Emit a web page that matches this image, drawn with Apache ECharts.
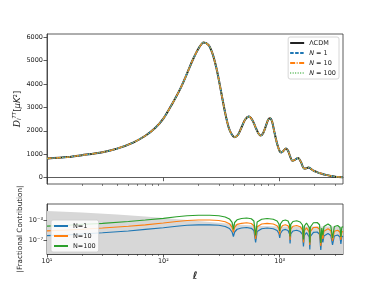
<!DOCTYPE html>
<html><head><meta charset="utf-8">
<script src="https://cdn.jsdelivr.net/npm/echarts@6/dist/echarts.min.js"></script>
<style>html,body{margin:0;padding:0;background:#fff}#c{width:381px;height:286px}</style>
</head><body><div id="c"></div>
<script>
// ---- top panel: D_l^TT (all four models overlap) ----
const ellTop = [10,15,20,30,40,55,70,85,100,120,140,160,180,200,222,245,265,285,300,320,340,365,390,412,440,470,505,543,580,620,655,686,720,760,795,826,860,900,950,1000,1032,1080,1132,1180,1230,1285,1350,1438,1520,1622,1700,1767,1850,1950,2113,2300,2500,2750,3000,3200,3500];
const dlTT = [820,880,960,1090,1240,1500,1790,2120,2520,3180,3800,4450,5050,5500,5770,5650,5280,4700,4170,3430,2760,2130,1820,1730,1840,2150,2480,2610,2470,2150,1900,1800,1900,2200,2470,2540,2400,1950,1450,1130,1080,1150,1250,1150,900,720,760,840,680,390,400,440,380,300,230,170,120,75,45,32,25];

// ---- bottom panel: |fractional contribution| ----
const ellBot = [10,15,20,30,50,70,100,130,160,200,250,300,340,370,390,400,410,430,470,520,570,600,621,640,700,780,880,950,985,1000,1015,1060,1120,1180,1215,1228,1245,1300,1400,1500,1570,1600,1630,1700,1760,1795,1815,1835,1950,2100,2200,2255,2300,2350,2400,2600,2750,2845,2950,3150,3300,3356,3420,3500];
const fracN1 = [7.2e-7,1.1e-6,1.6e-6,2.8e-6,6.3e-6,1.3e-5,2.8e-5,5.6e-5,8.9e-5,1.1e-4,
 1.1e-4,8.9e-5,5.0e-5,2.0e-5,4.0e-6,5.0e-7,4.0e-6,1.4e-5,2.5e-5,3.2e-5,
 2.2e-5,7.9e-6,3.2e-8,5.0e-6,1.8e-5,2.5e-5,1.8e-5,7.9e-6,2.0e-6,2.5e-7,
 2.0e-6,8.9e-6,1.3e-5,7.9e-6,1.6e-6,2.0e-8,1.6e-6,6.3e-6,8.9e-6,5.0e-6,
 1.3e-6,5.0e-9,7.9e-7,3.2e-6,2.0e-6,4.0e-7,1.3e-9,5.0e-7,3.5e-6,4.0e-6,
 1.4e-6,1.0e-9,3.2e-7,3.2e-8,6.3e-7,2.0e-6,7.9e-7,1.0e-8,6.3e-7,1.0e-6,
 4.0e-7,1.6e-8,4.0e-7,6.3e-7];
const fracN10 = [6.5e-6,1.0e-5,1.4e-5,2.5e-5,5.6e-5,1.1e-4,2.5e-4,5.0e-4,7.9e-4,1.0e-3,
 1.0e-3,7.9e-4,4.5e-4,1.8e-4,3.5e-5,3.2e-6,3.5e-5,1.3e-4,2.2e-4,2.8e-4,
 2.0e-4,7.1e-5,1.6e-7,4.5e-5,1.6e-4,2.2e-4,1.6e-4,7.1e-5,1.8e-5,1.3e-6,
 1.8e-5,7.9e-5,1.1e-4,7.1e-5,1.4e-5,1.0e-7,1.4e-5,5.6e-5,7.9e-5,4.5e-5,
 1.1e-5,3.2e-8,7.1e-6,2.8e-5,1.8e-5,3.5e-6,1.0e-8,4.5e-6,3.2e-5,3.5e-5,
 1.3e-5,6.3e-9,2.8e-6,1.6e-7,5.6e-6,1.8e-5,7.1e-6,6.3e-8,5.6e-6,8.9e-6,
 3.5e-6,1.0e-7,3.5e-6,5.6e-6];
const fracN100 = [5.8e-5,8.9e-5,1.3e-4,2.2e-4,5.0e-4,1.0e-3,2.2e-3,4.5e-3,7.1e-3,8.9e-3,
 8.9e-3,7.1e-3,4.0e-3,1.6e-3,3.2e-4,1.3e-5,3.2e-4,1.1e-3,2.0e-3,2.5e-3,
 1.8e-3,6.3e-4,7.9e-7,4.0e-4,1.4e-3,2.0e-3,1.4e-3,6.3e-4,1.6e-4,6.3e-6,
 1.6e-4,7.1e-4,1.0e-3,6.3e-4,1.3e-4,5.0e-7,1.3e-4,5.0e-4,7.1e-4,4.0e-4,
 1.0e-4,1.3e-7,6.3e-5,2.5e-4,1.6e-4,3.2e-5,3.2e-8,4.0e-5,2.8e-4,3.2e-4,
 1.1e-4,2.5e-8,2.5e-5,7.9e-7,5.0e-5,1.6e-4,6.3e-5,2.5e-7,5.0e-5,7.9e-5,
 3.2e-5,4.0e-7,3.2e-5,5.0e-5];
// grey band (upper edge)
const bandEll = [10,20,40,70,100,160,250,350,500,700,1000,3500];
const bandLevel = [6.3e-2,3.2e-2,1.3e-2,5.0e-3,2.5e-3,1.0e-3,4.0e-4,2.0e-4,1.0e-4,6.3e-5,5.0e-5,5.0e-5];

// ---- ticks ----
const xMajorTicks = [10,100,1000];
const xMajorLabels = ['10¹','10²','10³'];
const xMinorTicks = [20,30,40,50,60,70,80,90,200,300,400,500,600,700,800,900,2000,3000];
const yTopTicks = [0,1000,2000,3000,4000,5000,6000];
const yBotTicks = [1e-7,1e-3];
const yBotLabels = ['10⁻⁷','10⁻³'];

const zip = (a,b)=>a.map((v,i)=>[v,b[i]]);
const FONT = 'DejaVu Sans';
const AX = '#333';
const nearestLabel = (v, ticks, labels) => {
  let best = 0, bd = Infinity;
  ticks.forEach((t,i)=>{ const d = Math.abs(Math.log10(v)-Math.log10(t)); if(d<bd){bd=d;best=i;} });
  return labels[best];
};

function xPair(gi, showLabels){
  return [{
    type:'log', logBase:10, gridIndex:gi, min:10, max:3500, position:'bottom',
    axisLine:{show:true, lineStyle:{color:AX, width:0.8}},
    axisTick:{show:true, length:3.5, customValues:xMajorTicks, lineStyle:{color:AX, width:0.8}},
    axisLabel:{show:showLabels, customValues:xMajorTicks, fontSize:6.5, fontFamily:FONT, color:'#222', margin:4,
      formatter:v=>nearestLabel(v,xMajorTicks,xMajorLabels)},
    splitLine:{show:false}, minorTick:{show:false},
    name: showLabels ? 'ℓ' : '', nameLocation:'middle', nameGap:17, nameMoveOverlap:false,
    nameTextStyle:{fontSize:10, fontStyle:'italic', fontWeight:'bold', fontFamily:FONT, color:'#222'}
  },{
    type:'log', logBase:10, gridIndex:gi, min:10, max:3500, position:'bottom', offset:0,
    axisLine:{show:false},
    axisTick:{show:true, length:2, customValues:xMinorTicks, lineStyle:{color:AX, width:0.6}},
    axisLabel:{show:false}, splitLine:{show:false}
  }];
}

const chart = echarts.init(document.getElementById('c'), null, {renderer:'canvas'});
const topLegendFmt = n => n.startsWith('N') ? '{i|N}' + n.slice(1) : n;
const hiddenSymbol = {color:'rgba(0,0,0,0)', borderWidth:0, opacity:0};

chart.setOption({
  animation:false,
  textStyle:{fontFamily:FONT},
  grid:[
    {left:47, top:34, width:296, height:150, show:true, borderColor:AX, borderWidth:0.8, containLabel:false},
    {left:47, top:204, width:296, height:50, show:true, borderColor:AX, borderWidth:0.8, containLabel:false}
  ],
  xAxis:[...xPair(0,false), ...xPair(1,true)],
  yAxis:[{
    type:'value', gridIndex:0, min:-268, max:6128,
    axisLine:{show:true, lineStyle:{color:AX, width:0.8}},
    axisTick:{show:true, length:3.5, customValues:yTopTicks, lineStyle:{color:AX, width:0.8}},
    axisLabel:{customValues:yTopTicks, fontSize:6.5, fontFamily:FONT, color:'#222', margin:4, formatter:v=>String(v)},
    splitLine:{show:false},
    name:'{d|D}{s|l}{p|TT}{t|[}{it|μK}{t|²]}', nameLocation:'middle', nameRotate:90, nameGap:24, nameMoveOverlap:false,
    nameTextStyle:{color:'#222', rich:{
      d:{fontSize:9, fontStyle:'italic', fontFamily:'DejaVu Serif', color:'#222'},
      s:{fontSize:5.5, fontStyle:'italic', fontFamily:FONT, color:'#222', padding:[4,0,0,0]},
      p:{fontSize:5.5, fontStyle:'italic', fontFamily:FONT, color:'#222', padding:[0,0,5,0]},
      t:{fontSize:8.5, fontFamily:FONT, color:'#222'},
      it:{fontSize:8.5, fontStyle:'italic', fontFamily:FONT, color:'#222'}
    }}
  },{
    type:'log', logBase:10, gridIndex:1, min:1.585e-10, max:1.585,
    axisLine:{show:true, lineStyle:{color:AX, width:0.8}},
    axisTick:{show:true, length:3.5, customValues:yBotTicks, lineStyle:{color:AX, width:0.8}},
    axisLabel:{customValues:yBotTicks, fontSize:6.5, fontFamily:FONT, color:'#222', margin:4,
      formatter:v=>nearestLabel(v,yBotTicks,yBotLabels)},
    splitLine:{show:false}, minorTick:{show:false},
    name:'|Fractional Contribution|', nameLocation:'middle', nameRotate:90, nameGap:23, nameMoveOverlap:false,
    nameTextStyle:{fontSize:7.2, fontFamily:FONT, color:'#222'}
  }],
  legend:[{
    data:['ΛCDM','N = 1','N = 10','N = 100'],
    right:42, top:37, orient:'vertical', itemWidth:14, itemHeight:7, itemGap:2,
    padding:[2,3,2,1], backgroundColor:'rgba(255,255,255,0.85)', borderColor:'#ccc', borderWidth:0.8, borderRadius:2,
    itemStyle:hiddenSymbol,
    formatter:topLegendFmt,
    textStyle:{fontSize:6.5, fontFamily:FONT, color:'#222', lineHeight:8, rich:{i:{fontStyle:'italic', fontSize:6.5, fontFamily:FONT, color:'#222'}}}
  },{
    data:['N=1','N=10','N=100'],
    left:51, top:220, orient:'vertical', itemWidth:14, itemHeight:7, itemGap:2,
    padding:[2,3,2,2], backgroundColor:'rgba(255,255,255,0.85)', borderColor:'#ccc', borderWidth:0.8, borderRadius:2,
    itemStyle:hiddenSymbol,
    textStyle:{fontSize:6.5, fontFamily:FONT, color:'#222', lineHeight:8}
  }],
  series:[
    {name:'ΛCDM', type:'line', xAxisIndex:0, yAxisIndex:0, data:zip(ellTop,dlTT), symbol:'none', smooth:0.3,
      color:'#222', lineStyle:{color:'#222', width:2}},
    {name:'N = 1', type:'line', xAxisIndex:0, yAxisIndex:0, data:zip(ellTop,dlTT), symbol:'none', smooth:0.3,
      color:'#1f77b4', lineStyle:{color:'#1f77b4', width:1.3, type:[3.5,1.5]}},
    {name:'N = 10', type:'line', xAxisIndex:0, yAxisIndex:0, data:zip(ellTop,dlTT), symbol:'none', smooth:0.3,
      color:'#ff7f0e', lineStyle:{color:'#ff7f0e', width:1.3, type:[5,1.5,1,1.5]}},
    {name:'N = 100', type:'line', xAxisIndex:0, yAxisIndex:0, data:zip(ellTop,dlTT), symbol:'none', smooth:0.3,
      color:'#2ca02c', lineStyle:{color:'#7fc97f', width:1.3, type:[1,1.5]}},
    {name:'band', type:'line', xAxisIndex:2, yAxisIndex:1, data:zip(bandEll,bandLevel), symbol:'none',
      lineStyle:{width:0}, areaStyle:{origin:'start', color:'#d7d7d7', opacity:1}, silent:true},
    {name:'N=1', type:'line', xAxisIndex:2, yAxisIndex:1, data:zip(ellBot,fracN1), symbol:'none',
      color:'#1f77b4', lineStyle:{color:'#1f77b4', width:1.2}},
    {name:'N=10', type:'line', xAxisIndex:2, yAxisIndex:1, data:zip(ellBot,fracN10), symbol:'none',
      color:'#ff7f0e', lineStyle:{color:'#ff7f0e', width:1.2}},
    {name:'N=100', type:'line', xAxisIndex:2, yAxisIndex:1, data:zip(ellBot,fracN100), symbol:'none',
      color:'#2ca02c', lineStyle:{color:'#2ca02c', width:1.2}}
  ]
});
</script></body></html>
